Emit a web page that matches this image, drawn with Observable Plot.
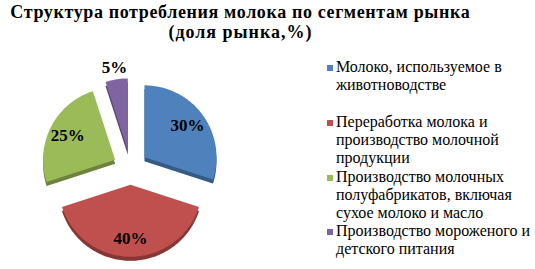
<!DOCTYPE html>
<html><head><meta charset="utf-8">
<script src="https://cdn.jsdelivr.net/npm/d3@7"></script>
<script src="https://cdn.jsdelivr.net/npm/@observablehq/plot@0.6"></script>
<style>
html,body{margin:0;padding:0;background:#fff;}
#wrap{position:relative;width:535px;height:269px;overflow:hidden;font-family:"Liberation Serif","Times New Roman",serif;}
#title{position:absolute;left:0;top:2px;width:480px;text-align:center;font-weight:bold;font-size:18px;line-height:20px;color:#000;}
#title div{white-space:nowrap;}
#legend{position:absolute;left:327px;top:58px;width:208px;font-size:16px;line-height:18.2px;color:#000;}
.item{display:flex;align-items:flex-start;}
.sw{width:6px;height:6px;margin-top:7px;margin-right:3px;flex:none;}
.tx{width:198px;}
#plot{position:absolute;left:0;top:45px;}
</style></head>
<body><div id="wrap"><div id="title"></div><div id="plot"></div><div id="legend"></div></div>
<script>
const titleLines = ["Структура потребления молока по сегментам рынка", "(доля рынка,%)"];
const categories = [
  "Молоко, используемое в животноводстве",
  "Переработка молока и производство молочной продукции",
  "Производство молочных полуфабрикатов, включая сухое молоко и масло",
  "Производство мороженого и детского питания"
];
const shares = [30, 40, 25, 5];
const shareLabels = ["30%", "40%", "25%", "5%"];
const palette = ["#4F81BD", "#C0504D", "#9BBB59", "#8064A2"];

const W = 535, H = 224, CX = 130, CY = 122, R = 72, EXPLODE = 0.24;
const TITLE_WIDTHS = [460, 144];

// title, stretched to the reference's rendered widths
const ctx = document.createElement("canvas").getContext("2d");
ctx.font = "bold 18px 'Liberation Serif'";
titleLines.forEach((t, i) => {
  const w = ctx.measureText(t).width;
  const ls = (TITLE_WIDTHS[i] - w) / t.length;
  const d = document.createElement("div");
  d.textContent = t;
  d.style.letterSpacing = ls.toFixed(3) + "px";
  d.style.textIndent = ls.toFixed(3) + "px";
  document.getElementById("title").appendChild(d);
});

const arcs = d3.pie().sort(null).value(d => d)(shares);
const pts = [];
const lbls = [];
arcs.forEach((a, i) => {
  const mid = (a.startAngle + a.endAngle) / 2;
  const ox = EXPLODE * Math.sin(mid), oy = EXPLODE * Math.cos(mid);
  pts.push({cat: categories[i], x: ox, y: oy});
  const n = Math.max(4, Math.ceil((a.endAngle - a.startAngle) * 40));
  for (let k = 0; k <= n; k++) {
    const t = a.startAngle + (a.endAngle - a.startAngle) * k / n;
    pts.push({cat: categories[i], x: ox + Math.sin(t), y: oy + Math.cos(t)});
  }
  const rr = shares[i] < 10 ? 1.17 : 0.74;
  lbls.push({text: shareLabels[i], x: ox + rr * Math.sin(mid), y: oy + rr * Math.cos(mid)});
});

const chart = Plot.plot({
  width: W, height: H,
  margin: 0,
  x: {domain: [-CX / R, (W - CX) / R], axis: null},
  y: {domain: [-(H - CY) / R, CY / R], axis: null},
  color: {type: "ordinal", domain: categories, range: palette, legend: false},
  style: {background: "transparent"},
  marks: [
    Plot.line(pts, {x: "x", y: "y", z: "cat", fill: "cat", stroke: null, curve: "linear-closed", dy: 4}),
    Plot.line(pts, {x: "x", y: "y", z: "cat", fill: "black", fillOpacity: 0.3, stroke: null, curve: "linear-closed", dy: 4}),
    Plot.line(pts, {x: "x", y: "y", z: "cat", fill: "cat", stroke: null, curve: "linear-closed"}),
    Plot.text(lbls, {x: "x", y: "y", text: "text", fontSize: 17, fontWeight: "bold", fontFamily: "Liberation Serif", fill: "black"})
  ]
});
document.getElementById("plot").appendChild(chart);

const color = chart.scale("color");
const leg = d3.select("#legend");
categories.forEach((c, i) => {
  const it = leg.append("div").attr("class", "item").style("margin-bottom", i === 0 ? "18.5px" : "0px");
  it.append("div").attr("class", "sw").style("background", color.apply(c));
  it.append("div").attr("class", "tx").text(c);
});
</script></body></html>
